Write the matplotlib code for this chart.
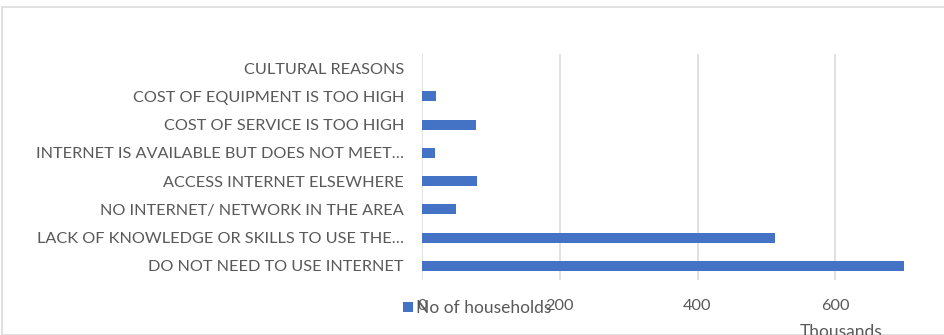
import matplotlib
matplotlib.use("Agg")
import matplotlib.pyplot as plt
from matplotlib.patches import Rectangle

# Reasons for not using the internet (values in thousands of households)
categories = [
    "DO NOT NEED TO USE INTERNET",
    "LACK OF KNOWLEDGE OR SKILLS TO USE THE\u2026",
    "NO INTERNET/ NETWORK IN THE AREA",
    "ACCESS INTERNET ELSEWHERE",
    "INTERNET IS AVAILABLE BUT DOES NOT MEET\u2026",
    "COST OF SERVICE IS TOO HIGH",
    "COST OF EQUIPMENT IS TOO HIGH",
    "CULTURAL REASONS",
]
households = [700, 512, 50, 80, 19, 78, 21, 0]
xticks = [0, 200, 400, 600]
series_name = "No of households"
unit_label = "Thousands"

TEXT = "#595959"
GRID = "#d9d9d9"
BAR = "#4472C4"
W, H = 945, 335
FS = 11.7

plt.rcParams["font.family"] = ["Lato", "DejaVu Sans"]

fig = plt.figure(figsize=(W / 100, H / 100), dpi=100)

# chart-area frame
fig.patches.append(Rectangle((2 / W, 0), 1.2, 1 - 6.5 / H, transform=fig.transFigure,
                             fill=False, edgecolor=GRID, linewidth=1.1))

ax = fig.add_axes([422 / W, 1 - 280 / H, 551 / W, 226 / H])
y = range(len(categories))
bars = ax.barh(y, households, height=0.36, color=BAR, label=series_name, zorder=3)

ax.set_xlim(0, 800)
ax.set_ylim(-0.5, len(categories) - 0.5)
ax.set_xticks(xticks)
ax.set_xticklabels([str(t) for t in xticks])
ax.set_yticks(list(y))
ax.set_yticklabels(categories)
ax.grid(axis="x", color=GRID, linewidth=1.1, zorder=0)
for s in ax.spines.values():
    s.set_visible(False)
ax.tick_params(axis="both", length=0, colors=TEXT, labelsize=FS)
ax.tick_params(axis="x", pad=14)
ax.tick_params(axis="y", pad=13)

fig.legend(handles=[bars], loc="center left", bbox_to_anchor=(403 / W, 1 - 308 / H),
           frameon=False, handlelength=0.55, handleheight=0.55, handletextpad=0.2,
           borderaxespad=0, borderpad=0, fontsize=FS + 0.8, labelcolor=TEXT)

fig.text(800 / W, 1 - 324 / H, unit_label, color=TEXT, fontsize=FS + 0.8, va="top", ha="left")

fig.savefig("out.png", dpi=100, facecolor="white")
